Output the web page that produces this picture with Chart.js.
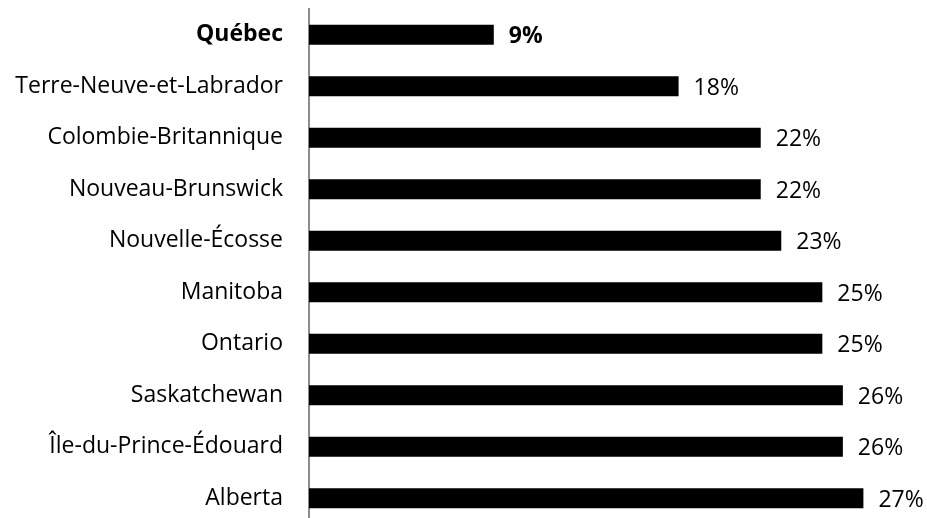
<!DOCTYPE html>
<html><head><meta charset="utf-8">
<script src="https://cdn.jsdelivr.net/npm/chart.js@4/dist/chart.umd.min.js"></script>
<style>html,body{margin:0;padding:0;background:#fff;overflow:hidden}#wrap{position:relative;width:927px;height:524px}</style>
</head><body><div id="wrap"><canvas id="c"></canvas></div>
<script>
const categories = ["Québec","Terre-Neuve-et-Labrador","Colombie-Britannique","Nouveau-Brunswick","Nouvelle-Écosse","Manitoba","Ontario","Saskatchewan","Île-du-Prince-Édouard","Alberta"];
const values = [9,18,22,22,23,25,25,26,26,27];
const valueLabels = ["9%","18%","22%","22%","23%","25%","25%","26%","26%","27%"];
const FONT = "'Open Sans', sans-serif";
const FSIZE = 23;

const labelPlugin = {
  id:'vlabels',
  afterDatasetsDraw(chart){
    const ctx = chart.ctx; const meta = chart.getDatasetMeta(0);
    ctx.save(); ctx.textBaseline='middle'; ctx.textAlign='left'; ctx.fillStyle='#000';
    meta.data.forEach((bar,i)=>{
      ctx.font = (i===0?'bold ':'')+FSIZE+'px '+FONT;
      ctx.fillText(valueLabels[i], bar.x+15, bar.y+2);
    });
    ctx.restore();
  }
};

new Chart(document.getElementById('c'),{
  type:'bar',
  data:{labels:categories,datasets:[{data:values,backgroundColor:'#000',borderWidth:0,barPercentage:0.78,categoryPercentage:0.5}]},
  options:{
    indexAxis:'y',responsive:true,maintainAspectRatio:false,animation:false,
    layout:{padding:{top:9,bottom:0,left:0,right:2}},
    plugins:{legend:{display:false},tooltip:{enabled:false}},
    scales:{
      x:{display:false,min:0,max:30},
      y:{
        afterFit(s){s.width=309;s.paddingTop=0;s.paddingBottom=0;},
        grid:{display:false,drawTicks:true,tickLength:20,tickColor:'rgba(0,0,0,0)'},
        border:{display:true,color:'#8c8c8c',width:2},
        ticks:{padding:6,color:'#000',font:c=>({family:FONT,size:FSIZE,weight:c.index===0?'bold':'normal'})}
      }
    }
  },
  plugins:[labelPlugin]
});
</script></body></html>
